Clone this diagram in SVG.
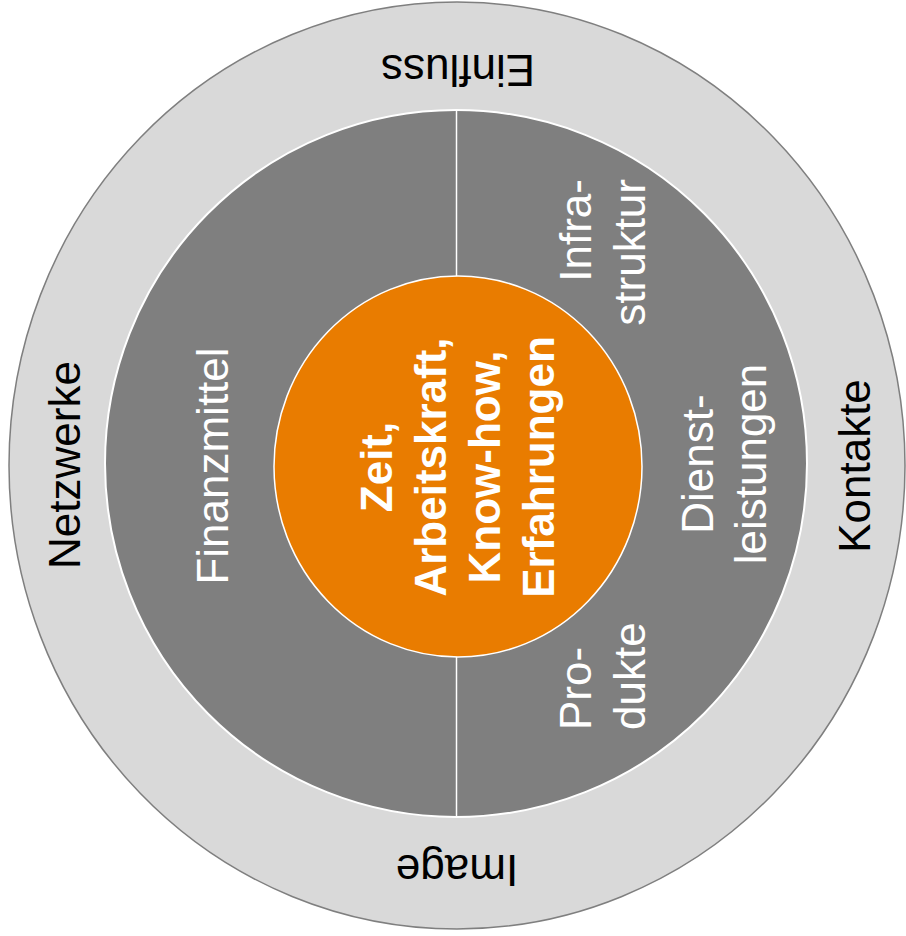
<svg xmlns="http://www.w3.org/2000/svg" width="906" height="936" viewBox="0 0 906 936">
<style>
.t{font-family:"Liberation Sans",Arial,sans-serif;font-size:44px}
.dk{fill:#000}
.wt{fill:#fff}
.b{font-weight:bold}
</style>
<rect width="906" height="936" fill="#fff"/>
<g id="outer">
<ellipse cx="457" cy="465.5" rx="448" ry="463.5" fill="#d9d9d9" stroke="#7f7f7f" stroke-width="1.5"/>
<text class="t dk" text-anchor="middle" transform="translate(458,55) rotate(180)">Einfluss</text>
<text class="t dk" text-anchor="middle" transform="translate(457,855) rotate(180)">Image</text>
<text class="t dk" text-anchor="middle" transform="translate(80,465) rotate(-90)">Netzwerke</text>
<text class="t dk" text-anchor="middle" transform="translate(870,466) rotate(-90)">Kontakte</text>
</g>
<g id="middle">
<ellipse cx="456" cy="463.5" rx="351" ry="353.5" fill="#7f7f7f" stroke="#fff" stroke-width="2"/>
</g>
<g id="connectors">
<line x1="456.5" y1="110" x2="456.5" y2="280" stroke="#fff" stroke-width="1.5"/>
<line x1="456.5" y1="652" x2="456.5" y2="817" stroke="#fff" stroke-width="1.5"/>
</g>
<g id="finanzmittel">
<text class="t wt" text-anchor="middle" transform="translate(228,466) rotate(-90)">Finanzmittel</text>
</g>
<g id="infrastruktur">
<text class="t wt" text-anchor="end" transform="translate(591,179) rotate(-90)">Infra-</text>
<text class="t wt" text-anchor="end" transform="translate(645,179) rotate(-90)">struktur</text>
</g>
<g id="dienstleistungen">
<text class="t wt" text-anchor="middle" transform="translate(713,464) rotate(-90)">Dienst-</text>
<text class="t wt" text-anchor="middle" transform="translate(766,464) rotate(-90)">leistungen</text>
</g>
<g id="produkte">
<text class="t wt" text-anchor="start" transform="translate(591,730) rotate(-90)">Pro-</text>
<text class="t wt" text-anchor="start" transform="translate(645,730) rotate(-90)">dukte</text>
</g>
<g id="center">
<ellipse cx="458" cy="466.5" rx="184" ry="190.5" fill="#e97c00" stroke="#fff" stroke-width="1.5"/>
<g class="t wt b" text-anchor="middle">
<text transform="translate(392,467) rotate(-90)">Zeit,</text>
<text transform="translate(446,467) rotate(-90)">Arbeitskraft,</text>
<text transform="translate(500,467) rotate(-90)">Know-how,</text>
<text transform="translate(554,467) rotate(-90)">Erfahrungen</text>
</g>
</g>
</svg>
